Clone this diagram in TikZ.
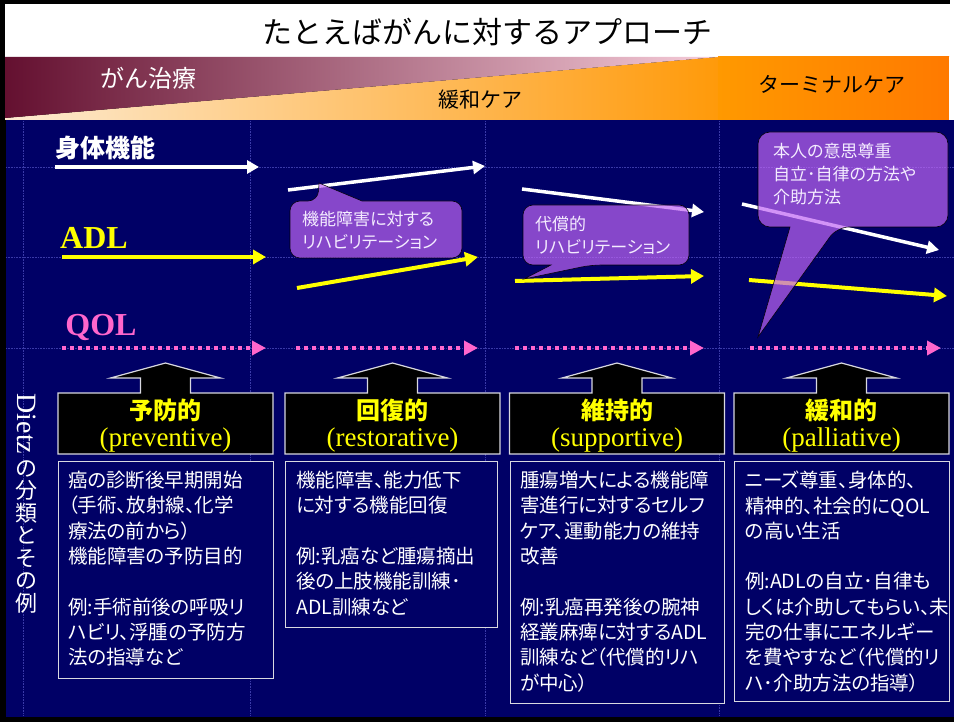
\documentclass[tikz,border=0pt]{standalone}
\usepackage{fontspec}
\setmainfont{Liberation Serif}
\newfontfamily\jp{Noto Sans CJK JP}
\newfontfamily\jpp{Noto Sans CJK JP}[RawFeature=+palt]
\usetikzlibrary{arrows.meta}
\definecolor{navy}{HTML}{000066}
\definecolor{gridc}{HTML}{3A3AA8}
\definecolor{maroon1}{HTML}{641030}
\definecolor{pink1}{HTML}{E85C7E}
\definecolor{pink2}{HTML}{F6CCD9}
\definecolor{cream1}{HTML}{FDEBD2}
\definecolor{orange1}{HTML}{FFBE55}
\definecolor{orange2}{HTML}{FF9A0A}
\definecolor{orange3}{HTML}{FF9900}
\definecolor{orange4}{HTML}{FF7A00}
\definecolor{qolpink}{HTML}{FF66CC}
\definecolor{adlyellow}{HTML}{FFFF00}
\definecolor{callfill}{HTML}{C066F5}
\definecolor{calltext}{HTML}{F4ECFF}
\definecolor{boxline}{HTML}{D8D8E0}
\begin{document}
\begin{tikzpicture}[x=1pt,y=-1pt,
  gridline/.style={gridc, line width=0.6pt, densely dotted},
  whitearrow/.style={white, line width=3.5pt, -{Triangle[length=12pt,width=13pt]}},
  yellowarrow/.style={adlyellow, line width=4pt, -{Triangle[length=13pt,width=14pt]}},
  qolarrow/.style={qolpink, line width=4pt, dash pattern=on 4pt off 4pt, -{Triangle[length=14pt,width=14pt]}},
  callout/.style={fill=callfill, fill opacity=0.7, draw=black, draw opacity=0.9, line width=0.6pt},
  calltxt/.style={anchor=north west, inner sep=0pt, align=left, text=calltext, font={\jpp\fontsize{17}{23}\selectfont}},
  hdrshape/.style={fill=black, draw=boxline, line width=1.2pt},
  hdrjp/.style={text=adlyellow, inner sep=0pt, font={\jp\bfseries\fontsize{24}{26}\selectfont}},
  hdren/.style={text=adlyellow, inner sep=0pt, font={\fontsize{27}{29}\selectfont}},
  cbox/.style={draw=boxline, fill=navy, line width=1.2pt, anchor=north west, inner sep=0pt},
  ctext/.style={anchor=north west, inner sep=0pt, align=left, text=white, font={\jpp\fontsize{19.5}{25.3}\selectfont}},
  lbl/.style={inner sep=0pt}
]
\useasboundingbox (0,0) rectangle (954,722);
% frame and backgrounds
\fill[black] (0,0) rectangle (954,722);
\fill[white] (5,4) rectangle (954,57);
\fill[white] (950,0) rectangle (954,4);
\fill[navy] (6,120) rectangle (954,717);
% header band
\shade[left color=cream1, middle color=orange1, right color=orange2] (5,118) -- (718,57) -- (718,120) -- (5,120) -- cycle;
\shade[left color=maroon1, middle color=pink1, right color=pink2] (5,57) -- (718,57) -- (5,118) -- cycle;
\shade[left color=orange3, right color=orange4] (718,57) rectangle (949,120);
\fill[white] (949,57) rectangle (954,120);
% grid lines
\foreach \gx in {23,250,485,719} { \draw[gridline] (\gx,121) -- (\gx,716); }
\foreach \gy in {167,257,348} { \draw[gridline] (6,\gy) -- (954,\gy); }
% title and band texts
\node[lbl, font={\jp\fontsize{30}{32}\selectfont}] (title) at (487,32) {たとえばがんに対するアプローチ};
\node[lbl, text=white, font={\jp\fontsize{24}{26}\selectfont}] (cure) at (148,78) {がん治療};
\node[lbl, font={\jp\fontsize{21}{23}\selectfont}] (palli) at (480,100) {緩和ケア};
\node[lbl, font={\jp\fontsize{21}{23}\selectfont}] (term) at (832,84) {ターミナルケア};
% row labels
\node[lbl, text=white, font={\jp\bfseries\fontsize{25}{27}\selectfont}] (body) at (106,148) {身体機能};
\node[lbl, text=adlyellow, font={\bfseries\fontsize{32}{34}\selectfont}] (adl) at (94,238) {ADL};
\node[lbl, text=qolpink, font={\bfseries\fontsize{32}{34}\selectfont}] (qol) at (101,327) {QOL};
% vertical label
\node[lbl, text=white, rotate=-90, font={\fontsize{28}{30}\selectfont}] (dietz) at (27,424) {Dietz};
\node[lbl, text=white, align=center, font={\jp\fontsize{22}{22.5}\selectfont}] (dietzjp) at (27,537) {の\\分\\類\\と\\そ\\の\\例};
% arrow end points
\coordinate (w1s) at (55,167);  \coordinate (w1e) at (259,167);
\coordinate (w2s) at (288,190); \coordinate (w2e) at (485,166);
\coordinate (w3s) at (522,189); \coordinate (w3e) at (704,212);
\coordinate (w4s) at (742,204); \coordinate (w4e) at (939,250);
\coordinate (y1s) at (62,257);  \coordinate (y1e) at (266,257);
\coordinate (y2s) at (297,288); \coordinate (y2e) at (478,257);
\coordinate (y3s) at (515,281); \coordinate (y3e) at (704,276);
\coordinate (y4s) at (749,280); \coordinate (y4e) at (947,296);
\coordinate (q1s) at (62,348);  \coordinate (q1e) at (266,348);
\coordinate (q2s) at (296,348); \coordinate (q2e) at (478,348);
\coordinate (q3s) at (515,348); \coordinate (q3e) at (704,348);
\coordinate (q4s) at (750,348); \coordinate (q4e) at (941,348);
\foreach \i in {1,2,3,4} {
  \draw[whitearrow] (w\i s) -- (w\i e);
  \draw[yellowarrow] (y\i s) -- (y\i e);
  \draw[qolarrow] (q\i s) -- (q\i e);
}
% callouts
\draw[callout, rounded corners=10pt] (290,258) -- (290,201) -- (318,201) [sharp corners] -- (319,183) -- (362,201) [rounded corners=10pt] -- (462,201) -- (462,258) -- cycle;
\draw[callout, rounded corners=10pt] (523,205) -- (689,205) -- (689,265) -- (591,265) [sharp corners] -- (524,279) -- (551,265) [rounded corners=10pt] -- (523,265) -- cycle;
\draw[callout, rounded corners=12pt] (758,132) -- (948,132) -- (948,227) -- (837,227) [sharp corners] -- (758,337) -- (790,227) [rounded corners=12pt] -- (758,227) -- cycle;
\node[calltxt] (c1) at (302,211) {機能障害に対する\\リハビリテーション};
\node[calltxt] (c2) at (535,216) {代償的\\リハビリテーション};
\node[calltxt] (c3) at (773,143) {本人の意思尊重\\自立･自律の方法や\\介助方法};
% header block arrows
\foreach \c/\n/\jt/\et in {165.5/A/予防的/preventive, 392.5/B/回復的/restorative, 617/C/維持的/supportive, 841.5/D/緩和的/palliative} {
  \draw[hdrshape] (\c-107.5,454) -- (\c-107.5,393) -- (\c-25,393) -- (\c-25,378) -- (\c-55,378) -- (\c,363) -- (\c+55,378) -- (\c+25,378) -- (\c+25,393) -- (\c+107.5,393) -- (\c+107.5,454) -- cycle;
  \node[hdrjp] (h\n1) at (\c,410) {\jt};
  \node[hdren] (h\n2) at (\c,440) {(\et)};
}
% content boxes
\node[cbox, minimum width=215pt, minimum height=217pt] (boxA) at (58,461) {};
\node[cbox, minimum width=212pt, minimum height=166pt] (boxB) at (285,461) {};
\node[cbox, minimum width=214pt, minimum height=242pt] (boxC) at (510,461) {};
\node[cbox, minimum width=215pt, minimum height=240pt] (boxD) at (734,461) {};
\node[ctext] (tA) at (68,471) {癌の診断後早期開始\\（手術、放射線、化学\\療法の前から）\\機能障害の予防目的\\[25.3pt]例:手術前後の呼吸リ\\ハビリ、浮腫の予防方\\法の指導など};
\node[ctext] (tB) at (296,471) {機能障害、能力低下\\に対する機能回復\\[25.3pt]例:乳癌など腫瘍摘出\\後の上肢機能訓練･\\ADL訓練など};
\node[ctext] (tC) at (520,471) {腫瘍増大による機能障\\害進行に対するセルフ\\ケア、運動能力の維持\\改善\\[25.3pt]例:乳癌再発後の腕神\\経叢麻痺に対するADL\\訓練など（代償的リハ\\が中心）};
\node[ctext] (tD) at (745,471) {ニーズ尊重、身体的、\\精神的、社会的にQOL\\の高い生活\\[25.3pt]例:ADLの自立･自律も\\しくは介助してもらい、未\\完の仕事にエネルギー\\を費やすなど（代償的リ\\ハ･介助方法の指導）};
\end{tikzpicture}
\end{document}
